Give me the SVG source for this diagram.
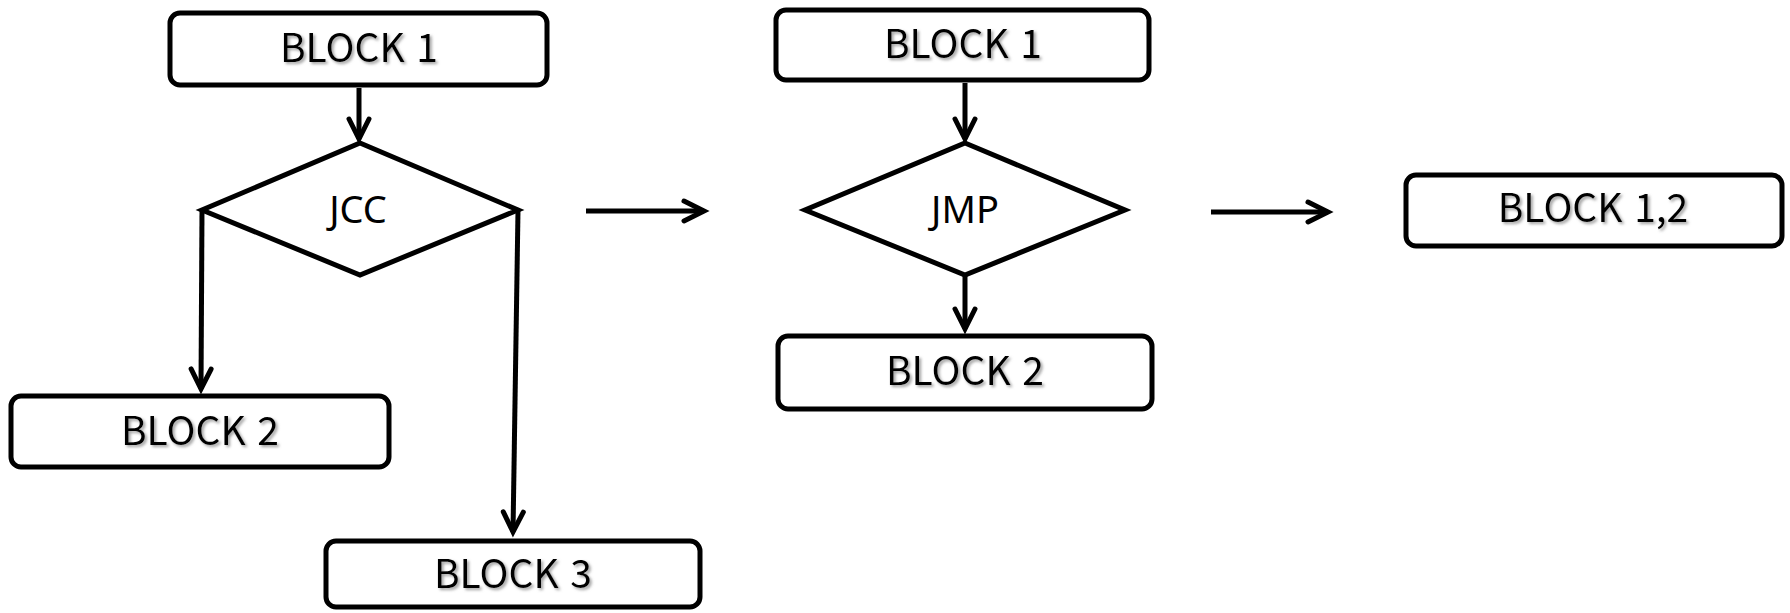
<svg xmlns="http://www.w3.org/2000/svg" width="1790" height="613" viewBox="0 0 1790 613">
<defs>
<style>
.box{fill:#fff;stroke:#000;stroke-width:5}
.dia{fill:#fff;stroke:#000;stroke-width:5;stroke-linejoin:miter}
.bt{font-family:"Noto Sans CJK KR","Liberation Sans",sans-serif;font-size:39px;fill:#000;text-anchor:middle;word-spacing:3px;filter:url(#sh)}
.dt{font-family:"Noto Sans","Liberation Sans",sans-serif;font-size:38px;fill:#000;text-anchor:middle}
.con{fill:none;stroke:#000;stroke-width:5;marker-end:url(#arr)}
</style>
<filter id="sh" x="-10%" y="-20%" width="130%" height="150%">
<feDropShadow dx="2" dy="2" stdDeviation="1.5" flood-color="#777" flood-opacity="0.7"/>
</filter>
<marker id="arr" markerUnits="userSpaceOnUse" orient="auto" refX="0" refY="0" markerWidth="30" markerHeight="30" viewBox="-25 -15 30 30" overflow="visible">
<path d="M-20,-10 L0,0 L-20,10" fill="none" stroke="#000" stroke-width="5" stroke-linecap="round" stroke-linejoin="miter"/>
</marker>
</defs>
<rect width="1790" height="613" fill="#fff"/>
<g id="connectors">
<path class="con" d="M359,88 L359,139"/>
<path class="con" d="M202,210 L201,389"/>
<path class="con" d="M518,210 L513,532"/>
<path class="con" d="M586,211 L704,211"/>
<path class="con" d="M965,83 L965,139"/>
<path class="con" d="M965,275 L965,329"/>
<path class="con" d="M1211,212 L1328,212"/>
</g>
<g id="l-block1">
<rect class="box" x="170" y="13" width="377" height="72" rx="10"/>
<text class="bt" x="359" y="62">BLOCK 1</text>
</g>
<g id="l-jcc">
<polygon class="dia" points="360,143 518,210 360,275 202,210"/>
<text class="dt" x="358" y="223">JCC</text>
</g>
<g id="l-block2">
<rect class="box" x="11" y="396" width="378" height="71" rx="10"/>
<text class="bt" x="200" y="445">BLOCK 2</text>
</g>
<g id="l-block3">
<rect class="box" x="326" y="541" width="374" height="66" rx="10"/>
<text class="bt" x="513" y="588">BLOCK 3</text>
</g>
<g id="m-block1">
<rect class="box" x="776" y="10" width="373" height="70" rx="10"/>
<text class="bt" x="963" y="58">BLOCK 1</text>
</g>
<g id="m-jmp">
<polygon class="dia" points="965,143 1125,210 965,275 805,210"/>
<text class="dt" x="965" y="223">JMP</text>
</g>
<g id="m-block2">
<rect class="box" x="778" y="336" width="374" height="73" rx="10"/>
<text class="bt" x="965" y="385">BLOCK 2</text>
</g>
<g id="r-block12">
<rect class="box" x="1406" y="175" width="376" height="71" rx="10"/>
<text class="bt" x="1593" y="222">BLOCK 1,2</text>
</g>
</svg>
